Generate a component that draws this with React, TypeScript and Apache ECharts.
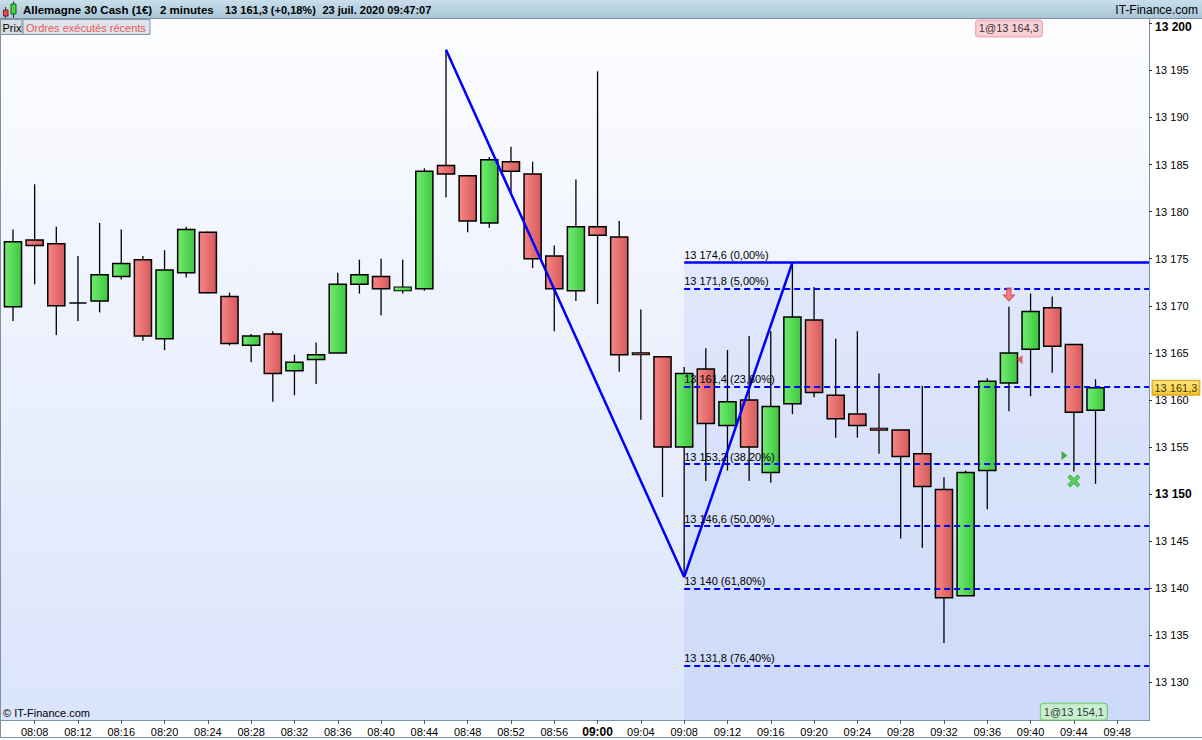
import React, { useEffect, useRef } from "react";
import * as echarts from "echarts";

// ---------- data ----------
const times = [
  "08:06", "08:08", "08:10", "08:12", "08:14", "08:16", "08:18", "08:20", "08:22", "08:24",
  "08:26", "08:28", "08:30", "08:32", "08:34", "08:36", "08:38", "08:40", "08:42", "08:44",
  "08:46", "08:48", "08:50", "08:52", "08:54", "08:56", "08:58", "09:00", "09:02", "09:04",
  "09:06", "09:08", "09:10", "09:12", "09:14", "09:16", "09:18", "09:20", "09:22", "09:24",
  "09:26", "09:28", "09:30", "09:32", "09:34", "09:36", "09:38", "09:40", "09:42", "09:44",
  "09:46",
];
const opens = [
  13169.9, 13177.0, 13176.6, 13170.3, 13170.5, 13173.1, 13174.9, 13166.5, 13173.5, 13177.8,
  13171.0, 13165.8, 13167.0, 13163.1, 13164.3, 13165.0, 13172.3, 13173.1, 13171.6, 13171.8,
  13184.9, 13183.8, 13178.8, 13185.3, 13184.0, 13175.3, 13171.6, 13178.4, 13177.3, 13165.0,
  13164.6, 13155.0, 13163.3, 13157.3, 13160.0, 13152.3, 13159.6, 13168.5, 13160.5, 13158.5,
  13157.0, 13156.8, 13154.3, 13150.5, 13139.2, 13152.5, 13161.8, 13165.4, 13169.8, 13165.9,
  13158.9,
];
const closes = [
  13176.8, 13176.4, 13170.0, 13170.3, 13173.3, 13174.5, 13166.8, 13173.8, 13178.1, 13171.4,
  13166.0, 13166.8, 13162.8, 13164.0, 13164.8, 13172.3, 13173.3, 13171.8, 13172.0, 13184.3,
  13184.0, 13179.0, 13185.5, 13184.3, 13175.0, 13171.8, 13178.4, 13177.5, 13164.8, 13164.8,
  13155.0, 13162.8, 13157.5, 13159.8, 13155.0, 13159.3, 13168.8, 13160.8, 13158.0, 13157.3,
  13156.8, 13154.0, 13150.8, 13139.0, 13152.3, 13162.0, 13165.0, 13169.4, 13165.7, 13158.7,
  13161.3,
];
const lows = [
  13168.4, 13172.3, 13166.9, 13168.4, 13169.3, 13172.8, 13166.3, 13165.3, 13173.0, 13171.3,
  13165.8, 13164.0, 13159.8, 13160.5, 13161.7, 13165.0, 13171.3, 13169.0, 13171.3, 13171.6,
  13181.5, 13177.8, 13178.3, 13182.0, 13174.0, 13167.3, 13170.5, 13170.2, 13163.0, 13157.9,
  13149.7, 13141.2, 13151.4, 13152.5, 13151.4, 13151.2, 13158.5, 13160.3, 13156.0, 13156.0,
  13154.3, 13145.3, 13144.3, 13134.2, 13139.2, 13148.4, 13158.8, 13160.4, 13162.9, 13152.4,
  13151.1,
];
const highs = [
  13178.1, 13182.9, 13178.4, 13175.3, 13178.8, 13178.1, 13175.3, 13175.9, 13178.4, 13177.9,
  13171.4, 13167.0, 13167.3, 13164.8, 13166.1, 13173.5, 13174.9, 13175.0, 13174.9, 13184.6,
  13197.2, 13183.8, 13185.8, 13186.9, 13185.3, 13176.4, 13183.4, 13194.9, 13179.0, 13169.6,
  13164.6, 13163.5, 13165.5, 13165.3, 13166.8, 13167.3, 13174.6, 13172.0, 13166.5, 13167.3,
  13162.8, 13156.8, 13161.5, 13151.8, 13152.5, 13162.3, 13169.9, 13171.3, 13171.0, 13165.9,
  13162.2,
];

const fibSwingTimes = ["08:46", "09:08", "09:18"];
const fibSwingValues = [13197.2, 13141.2, 13174.6];
const fibLevels = [13174.6, 13171.8, 13161.4, 13153.2, 13146.6, 13140, 13131.8];
const fibPercents = ["0,00", "5,00", "23,60", "38,20", "50,00", "61,80", "76,40"];

const tradeTimes = ["09:38", "09:44"];
const tradeSides = ["sell", "buy"];
const tradeQuantities = [1, 1];
const tradePrices = [13164.3, 13154.1];
const tradeMarkerValues = [13171.2, 13151.4];

const lastPrice = 13161.3;

const yMin = 13125;
const yMax = 13205;
const yStep = 5;
const xMinMinute = 4;
const xMaxMinute = 110.94;
const xStep = 4;

// ---------- helpers ----------
const FONT = '"Liberation Sans", Arial, sans-serif';

function toMinutes(t: string): number {
  const [h, m] = t.split(":").map(Number);
  return (h - 8) * 60 + m;
}
function fmtTime(min: number): string {
  const total = Math.round(min);
  const h = 8 + Math.floor(total / 60);
  const m = total % 60;
  return `${String(h).padStart(2, "0")}:${String(m).padStart(2, "0")}`;
}
function fmtPrice(v: number): string {
  const r = Math.round(v * 10) / 10;
  const int = Math.floor(r);
  const dec = Math.round((r - int) * 10);
  const grouped = String(int).replace(/\B(?=(\d{3})+(?!\d))/g, " ");
  return dec ? `${grouped},${dec}` : grouped;
}

export default function App() {
  const ref = useRef<HTMLDivElement>(null);

  useEffect(() => {
    if (!ref.current) return;
    const chart = echarts.init(ref.current, undefined, { renderer: "svg" });

    const upFill = new echarts.graphic.LinearGradient(0, 0, 1, 0, [
      { offset: 0, color: "#72ec72" },
      { offset: 1, color: "#3ec63e" },
    ]);
    const downFill = new echarts.graphic.LinearGradient(0, 0, 1, 0, [
      { offset: 0, color: "#f88686" },
      { offset: 1, color: "#d45a5a" },
    ]);

    const candleData = times.map((t, i) => [toMinutes(t), opens[i], closes[i], lows[i], highs[i]]);

    const borderColor = "#7d93a3";
    const headerText = (text: string, x: number, size: number) => ({
      type: "text",
      z: 5,
      silent: true,
      x,
      y: 10,
      style: { text, fontSize: size, fontWeight: "bold", fontFamily: FONT, fill: "#000", verticalAlign: "middle" },
    });

    const option: any = {
      animation: false,
      textStyle: { fontFamily: FONT },
      grid: {
        left: -8.65,
        right: 53,
        top: -23.785,
        bottom: 10.425,
        containLabel: false,
        outerBoundsMode: "none",
      },
      xAxis: {
        type: "value",
        min: xMinMinute,
        max: xMaxMinute,
        interval: xStep,
        offset: -9.575,
        z: 6,
        axisLine: { show: false },
        splitLine: { show: false },
        axisTick: { show: true, length: 4, lineStyle: { color: "#555", width: 1 } },
        axisLabel: {
          showMinLabel: false,
          showMaxLabel: false,
          margin: 6,
          fontSize: 11,
          color: "#000",
          fontFamily: FONT,
          formatter: (v: number) => {
            const s = fmtTime(v);
            return s.endsWith(":00") ? `{b|${s}}` : s;
          },
          rich: { b: { fontWeight: "bold", fontSize: 12, color: "#000", fontFamily: FONT } },
        },
      },
      yAxis: {
        type: "value",
        position: "right",
        min: yMin,
        max: yMax,
        interval: yStep,
        z: 6,
        axisLine: { show: false },
        splitLine: { show: false },
        axisTick: { show: true, length: 3, lineStyle: { color: "#333", width: 1 } },
        axisLabel: {
          showMinLabel: false,
          showMaxLabel: false,
          margin: 6,
          fontSize: 11,
          color: "#000",
          fontFamily: FONT,
          formatter: (v: number) => {
            const s = fmtPrice(v);
            if (v >= 13200) return `{t|${s}}`;
            if (v % 50 === 0) return `{b|${s}}`;
            return s;
          },
          rich: {
            b: { fontWeight: "bold", fontSize: 12, color: "#000", fontFamily: FONT },
            t: { fontWeight: "bold", fontSize: 12, color: "#000", fontFamily: FONT, padding: [7, 0, 0, 0] },
          },
        },
      },
      graphic: [
        // plot background
        {
          type: "rect",
          z: -10,
          silent: true,
          shape: { x: 0, y: 19, width: 1149, height: 702 },
          style: {
            fill: new echarts.graphic.LinearGradient(0, 0, 0, 1, [
              { offset: 0, color: "#fdfdff" },
              { offset: 1, color: "#dae4fb" },
            ]),
          },
        },
        // white axis bands
        { type: "rect", z: 4, silent: true, shape: { x: 0, y: 721, width: 1202, height: 19 }, style: { fill: "#ffffff" } },
        { type: "rect", z: 4, silent: true, shape: { x: 1150, y: 19, width: 52, height: 702 }, style: { fill: "#ffffff" } },
        // borders
        { type: "line", z: 4, silent: true, shape: { x1: 0.5, y1: 19, x2: 0.5, y2: 738 }, style: { stroke: borderColor, lineWidth: 1 } },
        { type: "line", z: 4, silent: true, shape: { x1: 0, y1: 720.5, x2: 1149.5, y2: 720.5 }, style: { stroke: borderColor, lineWidth: 1 } },
        { type: "line", z: 4, silent: true, shape: { x1: 1149.5, y1: 19, x2: 1149.5, y2: 721 }, style: { stroke: borderColor, lineWidth: 1 } },
        { type: "line", z: 4, silent: true, shape: { x1: 0, y1: 737.5, x2: 1202, y2: 737.5 }, style: { stroke: borderColor, lineWidth: 1 } },
        // header bar
        {
          type: "rect",
          z: 4,
          silent: true,
          shape: { x: 0, y: 0, width: 1202, height: 19 },
          style: {
            fill: new echarts.graphic.LinearGradient(0, 0, 0, 1, [
              { offset: 0, color: "#c8deea" },
              { offset: 1, color: "#a8c5d5" },
            ]),
          },
        },
        { type: "line", z: 4, silent: true, shape: { x1: 0, y1: 18.5, x2: 1202, y2: 18.5 }, style: { stroke: borderColor, lineWidth: 1 } },
        // header icon
        { type: "line", z: 5, silent: true, shape: { x1: 5.5, y1: 7, x2: 5.5, y2: 18 }, style: { stroke: "#333", lineWidth: 1 } },
        { type: "rect", z: 5, silent: true, shape: { x: 3.5, y: 10, width: 4.5, height: 6 }, style: { fill: "#e84848", stroke: "#702020", lineWidth: 1 } },
        { type: "line", z: 5, silent: true, shape: { x1: 13.5, y1: 1.5, x2: 13.5, y2: 18 }, style: { stroke: "#333", lineWidth: 1 } },
        { type: "rect", z: 5, silent: true, shape: { x: 11, y: 4, width: 5, height: 10 }, style: { fill: "#44d444", stroke: "#206020", lineWidth: 1 } },
        // header texts
        headerText("Allemagne 30 Cash (1€)", 23, 11.5),
        headerText("2 minutes", 160, 11.5),
        headerText("13 161,3 (+0,18%)", 225, 11),
        headerText("23 juil. 2020 09:47:07", 322.5, 11),
        { type: "text", z: 5, silent: true, x: 1198, y: 10, style: { text: "IT-Finance.com", fontSize: 12, fontFamily: FONT, fill: "#000", align: "right", verticalAlign: "middle" } },
        // tabs
        { type: "rect", z: 4, silent: true, shape: { x: 0.5, y: 19.5, width: 21.5, height: 15 }, style: { fill: "#d6dde4", stroke: borderColor, lineWidth: 1 } },
        { type: "text", z: 5, silent: true, x: 2.5, y: 27.5, style: { text: "Prix", fontSize: 11, fontFamily: FONT, fill: "#000", verticalAlign: "middle" } },
        { type: "rect", z: 4, silent: true, shape: { x: 23, y: 19.5, width: 127, height: 15 }, style: { fill: "#dde3ea", stroke: borderColor, lineWidth: 1 } },
        { type: "text", z: 5, silent: true, x: 26, y: 27.5, style: { text: "Ordres exécutés récents", fontSize: 11, fontFamily: FONT, fill: "#e85a5a", verticalAlign: "middle" } },
        // copyright
        { type: "text", z: 5, silent: true, x: 3, y: 713, style: { text: "© IT-Finance.com", fontSize: 11, fontFamily: FONT, fill: "#000", verticalAlign: "middle" } },
      ],
      series: [
        {
          type: "custom",
          name: "candles",
          z: 2,
          data: candleData,
          encode: { x: 0, y: [1, 2, 3, 4] },
          renderItem: (params: any, api: any) => {
            const x = api.value(0);
            const o = api.value(1);
            const c = api.value(2);
            const l = api.value(3);
            const h = api.value(4);
            const po = api.coord([x, o]);
            const pc = api.coord([x, c]);
            const pl = api.coord([x, l]);
            const ph = api.coord([x, h]);
            const w = api.size([1.58, 0])[0];
            const cx = po[0];
            const top = Math.min(po[1], pc[1]);
            const bottom = Math.max(po[1], pc[1]);
            const up = c >= o;
            const children: any[] = [
              { type: "line", shape: { x1: cx, y1: ph[1], x2: cx, y2: top }, style: { stroke: "#000", lineWidth: 1.3 } },
              { type: "line", shape: { x1: cx, y1: bottom, x2: cx, y2: pl[1] }, style: { stroke: "#000", lineWidth: 1.3 } },
            ];
            if (bottom - top < 0.5) {
              children.push({ type: "line", shape: { x1: cx - w / 2, y1: top, x2: cx + w / 2, y2: top }, style: { stroke: "#000", lineWidth: 1.5 } });
            } else {
              children.push({
                type: "rect",
                shape: { x: cx - w / 2, y: top, width: w, height: bottom - top },
                style: { fill: up ? upFill : downFill, stroke: "#000", lineWidth: bottom - top < 4 ? 1.1 : 1.5 },
              });
            }
            return { type: "group", children };
          },
        },
        {
          type: "line",
          name: "fib",
          z: 3,
          symbol: "none",
          data: fibSwingTimes.map((t, i) => [toMinutes(t), fibSwingValues[i]]),
          lineStyle: { color: "#0000ff", width: 2.5 },
          markArea: {
            silent: true,
            itemStyle: { color: "rgba(100,140,235,0.11)" },
            data: [[{ coord: [toMinutes(fibSwingTimes[1]), fibLevels[0]] }, { coord: [xMaxMinute, yMin] }]],
          },
          markLine: {
            silent: true,
            symbol: ["none", "none"],
            data: fibLevels.map((v, i) => [
              {
                coord: [toMinutes(fibSwingTimes[1]), v],
                lineStyle: { color: "#0000ff", width: i === 0 ? 2.5 : 2, type: i === 0 ? "solid" : [6, 4] },
                label: {
                  show: true,
                  position: "insideStartTop",
                  distance: [0, 2],
                  formatter: `${fmtPrice(v)} (${fibPercents[i]}%)`,
                  color: "#000",
                  fontSize: 11,
                  fontFamily: FONT,
                },
              },
              { coord: [xMaxMinute, v] },
            ]),
          },
        },
        {
          type: "scatter",
          name: "lastPrice",
          z: 10,
          clip: false,
          symbolSize: 1,
          itemStyle: { color: "rgba(0,0,0,0)" },
          data: [[xMaxMinute, lastPrice]],
          label: {
            show: true,
            position: "right",
            distance: 3,
            formatter: fmtPrice(lastPrice),
            color: "#000",
            fontSize: 11,
            fontFamily: FONT,
            padding: [2, 2, 1, 2],
            borderColor: "#c09000",
            borderWidth: 1,
            backgroundColor: new echarts.graphic.LinearGradient(0, 0, 0, 1, [
              { offset: 0, color: "#ffe45c" },
              { offset: 1, color: "#f4b900" },
            ]),
          },
        },
        {
          type: "scatter",
          name: "trades",
          z: 10,
          data: tradeTimes.map((t, i) =>
            tradeSides[i] === "sell"
              ? {
                  value: [toMinutes(t), tradeMarkerValues[i]],
                  symbol: "path://M3,0 L7,0 L7,7 L10,7 L5,13 L0,7 L3,7 Z",
                  symbolSize: [11, 13],
                  itemStyle: { color: "#f46868", borderColor: "#cc3a3a", borderWidth: 1 },
                }
              : {
                  value: [toMinutes(t), tradeMarkerValues[i]],
                  symbol: "path://M2,0 L5,3 L8,0 L10,2 L7,5 L10,8 L8,10 L5,7 L2,10 L0,8 L3,5 L0,2 Z",
                  symbolSize: [12, 12],
                  itemStyle: { color: "#3ccc3c", borderColor: "#22a022", borderWidth: 1 },
                }
          ),
        },
        {
          type: "scatter",
          name: "tradePrices",
          z: 10,
          data: tradeTimes.map((t, i) =>
            tradeSides[i] === "sell"
              ? {
                  value: [toMinutes(t), tradePrices[i]],
                  symbol: "path://M6,0 L6,8 L0,4 Z",
                  symbolSize: [6, 9],
                  symbolOffset: [10.6, 0],
                  itemStyle: { color: "#e23c3c" },
                }
              : {
                  value: [toMinutes(t), tradePrices[i]],
                  symbol: "path://M0,0 L6,4 L0,8 Z",
                  symbolSize: [6, 9],
                  symbolOffset: [-9.4, 0],
                  itemStyle: { color: "#1e9e1e" },
                }
          ),
        },
        {
          type: "scatter",
          name: "tradeLabels",
          z: 10,
          symbolSize: 1,
          itemStyle: { color: "rgba(0,0,0,0)" },
          data: tradeTimes.map((t, i) => ({
            value: [toMinutes(t), tradeSides[i] === "sell" ? 13199.45 : 13126.9],
            label: {
              show: true,
              position: "inside",
              formatter: `${tradeQuantities[i]}@${fmtPrice(tradePrices[i])}`,
              color: "#000",
              fontSize: 11,
              fontFamily: FONT,
              padding: [3, 3, 2, 3],
              borderRadius: 3,
              borderWidth: 1,
              borderColor: tradeSides[i] === "sell" ? "#e99aa4" : "#5cc05c",
              backgroundColor: tradeSides[i] === "sell" ? "#f5c6cc" : "#c8f3c8",
            },
          })),
        },
      ],
    };

    chart.setOption(option);
    return () => chart.dispose();
  }, []);

  return (
    <div
      ref={ref}
      style={{ position: "fixed", left: 0, top: 0, width: 1202, height: 740, background: "#ffffff" }}
    />
  );
}
